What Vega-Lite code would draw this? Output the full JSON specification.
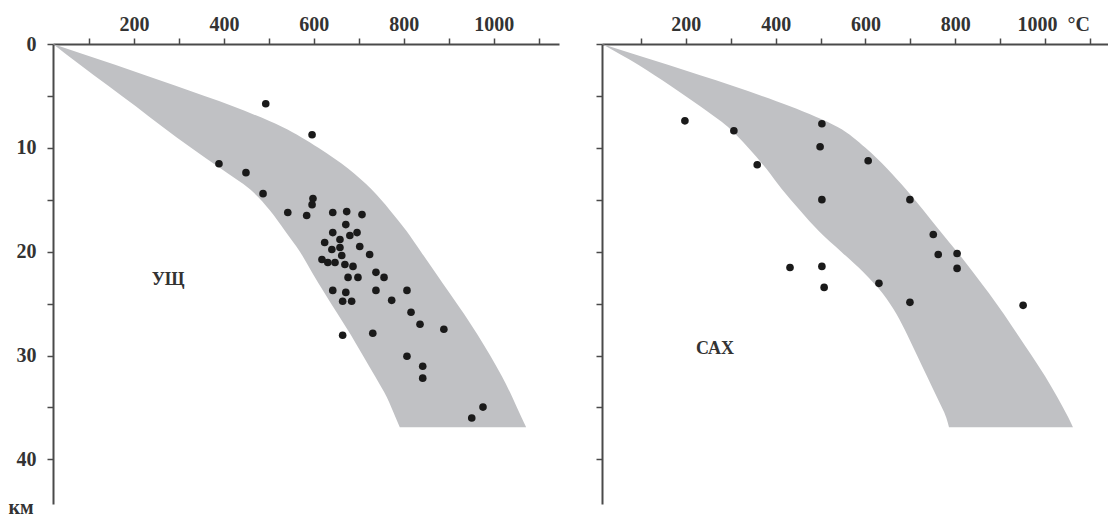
{
  "$schema": "https://vega.github.io/schema/vega-lite/v6.json",
  "background": "white",
  "padding": {"left": 8, "top": 14, "right": 0, "bottom": 0},
  "bounds": "flush",
  "spacing": 43,
  "config": {
    "view": {"stroke": null},
    "font": "Liberation Serif",
    "axis": {
      "grid": false,
      "domainColor": "#4a4a4a",
      "domainWidth": 2,
      "tickColor": "#4a4a4a",
      "tickWidth": 1.5,
      "tickSize": 6,
      "labelFont": "Liberation Serif",
      "labelFontWeight": "bold",
      "labelFontSize": 20,
      "labelColor": "#333333",
      "titleFont": "Liberation Serif"
    }
  },
  "datasets": {
    "bandL": [
      {"d": 0, "lo": 20, "hi": 20},
      {"d": 2, "lo": 80, "hi": 158},
      {"d": 4, "lo": 142, "hi": 291},
      {"d": 6, "lo": 204, "hi": 420},
      {"d": 8, "lo": 264, "hi": 530},
      {"d": 10, "lo": 327, "hi": 610},
      {"d": 12, "lo": 393, "hi": 676},
      {"d": 14, "lo": 458, "hi": 728},
      {"d": 16, "lo": 502, "hi": 769},
      {"d": 18, "lo": 536, "hi": 806},
      {"d": 20, "lo": 569, "hi": 838},
      {"d": 22, "lo": 596, "hi": 870},
      {"d": 24, "lo": 624, "hi": 902},
      {"d": 26, "lo": 653, "hi": 934},
      {"d": 28, "lo": 682, "hi": 964},
      {"d": 30, "lo": 709, "hi": 992},
      {"d": 32, "lo": 736, "hi": 1018},
      {"d": 34, "lo": 762, "hi": 1041},
      {"d": 36, "lo": 782, "hi": 1062},
      {"d": 36.9, "lo": 791, "hi": 1072}
    ],
    "bandR": [
      {"d": 0, "lo": 13.4, "hi": 13.4},
      {"d": 2, "lo": 94, "hi": 160},
      {"d": 4, "lo": 165, "hi": 302},
      {"d": 6, "lo": 232, "hi": 432},
      {"d": 8, "lo": 294, "hi": 538},
      {"d": 10, "lo": 339, "hi": 600},
      {"d": 12, "lo": 379, "hi": 648},
      {"d": 14, "lo": 414, "hi": 690},
      {"d": 16, "lo": 454, "hi": 729},
      {"d": 18, "lo": 496, "hi": 766},
      {"d": 20, "lo": 546, "hi": 804},
      {"d": 22, "lo": 596, "hi": 840},
      {"d": 24, "lo": 638, "hi": 875},
      {"d": 26, "lo": 669, "hi": 908},
      {"d": 28, "lo": 693, "hi": 939},
      {"d": 30, "lo": 715, "hi": 970},
      {"d": 32, "lo": 737, "hi": 1000},
      {"d": 34, "lo": 759, "hi": 1027},
      {"d": 36, "lo": 780, "hi": 1052},
      {"d": 36.9, "lo": 786, "hi": 1062}
    ],
    "ptsL": [
      {"t": 493, "d": 5.76}, {"t": 596, "d": 8.74}, {"t": 389, "d": 11.53}, {"t": 449, "d": 12.39},
      {"t": 487, "d": 14.41}, {"t": 598, "d": 14.89}, {"t": 596, "d": 15.47}, {"t": 542, "d": 16.23},
      {"t": 584, "d": 16.52}, {"t": 642, "d": 16.23}, {"t": 673, "d": 16.14}, {"t": 707, "d": 16.43},
      {"t": 671, "d": 17.39}, {"t": 642, "d": 18.16}, {"t": 680, "d": 18.44}, {"t": 696, "d": 18.16},
      {"t": 624, "d": 19.12}, {"t": 640, "d": 19.79}, {"t": 658, "d": 19.6}, {"t": 702, "d": 19.5},
      {"t": 724, "d": 20.27}, {"t": 631, "d": 21.04}, {"t": 647, "d": 21.04}, {"t": 669, "d": 21.23},
      {"t": 687, "d": 21.42}, {"t": 676, "d": 22.48}, {"t": 698, "d": 22.48}, {"t": 738, "d": 21.99},
      {"t": 756, "d": 22.48}, {"t": 642, "d": 23.73}, {"t": 671, "d": 23.92}, {"t": 664, "d": 24.78},
      {"t": 684, "d": 24.78}, {"t": 738, "d": 23.73}, {"t": 807, "d": 23.73}, {"t": 773, "d": 24.69},
      {"t": 816, "d": 25.84}, {"t": 836, "d": 26.99}, {"t": 889, "d": 27.47}, {"t": 664, "d": 28.05},
      {"t": 731, "d": 27.86}, {"t": 807, "d": 30.07}, {"t": 842, "d": 31.03}, {"t": 842, "d": 32.18},
      {"t": 976, "d": 34.97}, {"t": 951, "d": 36.02}, {"t": 618, "d": 20.75}, {"t": 662, "d": 20.37},
      {"t": 658, "d": 18.83}
    ],
    "ptsR": [
      {"t": 198, "d": 7.4}, {"t": 307, "d": 8.36}, {"t": 503, "d": 7.68}, {"t": 499, "d": 9.89},
      {"t": 359, "d": 11.63}, {"t": 606, "d": 11.24}, {"t": 503, "d": 14.99}, {"t": 699, "d": 14.99},
      {"t": 751, "d": 18.35}, {"t": 762, "d": 20.27}, {"t": 804, "d": 20.17}, {"t": 804, "d": 21.61},
      {"t": 432, "d": 21.52}, {"t": 503, "d": 21.42}, {"t": 508, "d": 23.44}, {"t": 630, "d": 23.05},
      {"t": 699, "d": 24.88}, {"t": 951, "d": 25.17}
    ],
    "lblL": [{"t": 276, "d": 22.7, "name": "УЩ"}],
    "lblR": [{"t": 265, "d": 29.4, "name": "САХ"}]
  },
  "hconcat": [
    {
      "width": 506,
      "height": 460,
      "layer": [
        {
          "data": {"name": "bandL"},
          "mark": {"type": "area", "orient": "horizontal", "interpolate": "monotone", "color": "#c0c1c4"},
          "encoding": {
            "y": {"field": "d", "type": "quantitative", "scale": {"domain": [0, 44.3], "reverse": true, "nice": false, "zero": false},
                  "axis": {"values": [0, 5, 10, 15, 20, 25, 30, 35, 40], "format": "d", "labelExpr": "datum.value % 10 == 0 ? datum.label : ''", "labelPadding": 11,
                           "title": "км", "titleAngle": 0, "titleX": -45, "titleY": 463, "titleAlign": "left", "titleBaseline": "middle",
                           "titleFontSize": 20, "titleFontWeight": "bold", "titleColor": "#333333"}},
            "x": {"field": "lo", "type": "quantitative", "scale": {"domain": [20, 1145], "nice": false, "zero": false},
                  "axis": {"orient": "top", "values": [100, 200, 300, 400, 500, 600, 700, 800, 900, 1000, 1100], "format": "d",
                           "labelExpr": "datum.value % 200 == 0 ? datum.label : ''", "labelPadding": 8, "labelBaseline": "alphabetic", "title": null}},
            "x2": {"field": "hi"}
          }
        },
        {
          "data": {"name": "ptsL"},
          "mark": {"type": "circle", "size": 58, "color": "#1a1a1a", "opacity": 1},
          "encoding": {
            "x": {"field": "t", "type": "quantitative"},
            "y": {"field": "d", "type": "quantitative"}
          }
        },
        {
          "data": {"name": "lblL"},
          "mark": {"type": "text", "font": "Liberation Serif", "fontWeight": "bold", "fontSize": 18, "color": "#333333"},
          "encoding": {
            "x": {"field": "t", "type": "quantitative"},
            "y": {"field": "d", "type": "quantitative"},
            "text": {"field": "name"}
          }
        }
      ]
    },
    {
      "width": 506,
      "height": 460,
      "layer": [
        {
          "data": {"name": "bandR"},
          "mark": {"type": "area", "orient": "horizontal", "interpolate": "monotone", "color": "#c0c1c4"},
          "encoding": {
            "y": {"field": "d", "type": "quantitative", "scale": {"domain": [0, 44.3], "reverse": true, "nice": false, "zero": false},
                  "axis": {"values": [0, 5, 10, 15, 20, 25, 30, 35, 40], "labels": false, "title": null}},
            "x": {"field": "lo", "type": "quantitative", "scale": {"domain": [13.4, 1140], "nice": false, "zero": false},
                  "axis": {"orient": "top", "values": [100, 200, 300, 400, 500, 600, 700, 800, 900, 1000, 1100], "format": "d",
                           "labelExpr": "datum.value == 1000 ? '1000\u00a0\u00a0°C' : (datum.value % 200 == 0 ? datum.label : '')",
                           "labelOffset": {"condition": {"test": "datum.value == 1000", "value": 8}, "value": 0},
                           "labelPadding": 8, "labelBaseline": "alphabetic", "title": null}},
            "x2": {"field": "hi"}
          }
        },
        {
          "data": {"name": "ptsR"},
          "mark": {"type": "circle", "size": 58, "color": "#1a1a1a", "opacity": 1},
          "encoding": {
            "x": {"field": "t", "type": "quantitative"},
            "y": {"field": "d", "type": "quantitative"}
          }
        },
        {
          "data": {"name": "lblR"},
          "mark": {"type": "text", "font": "Liberation Serif", "fontWeight": "bold", "fontSize": 18, "color": "#333333"},
          "encoding": {
            "x": {"field": "t", "type": "quantitative"},
            "y": {"field": "d", "type": "quantitative"},
            "text": {"field": "name"}
          }
        }
      ]
    }
  ]
}
